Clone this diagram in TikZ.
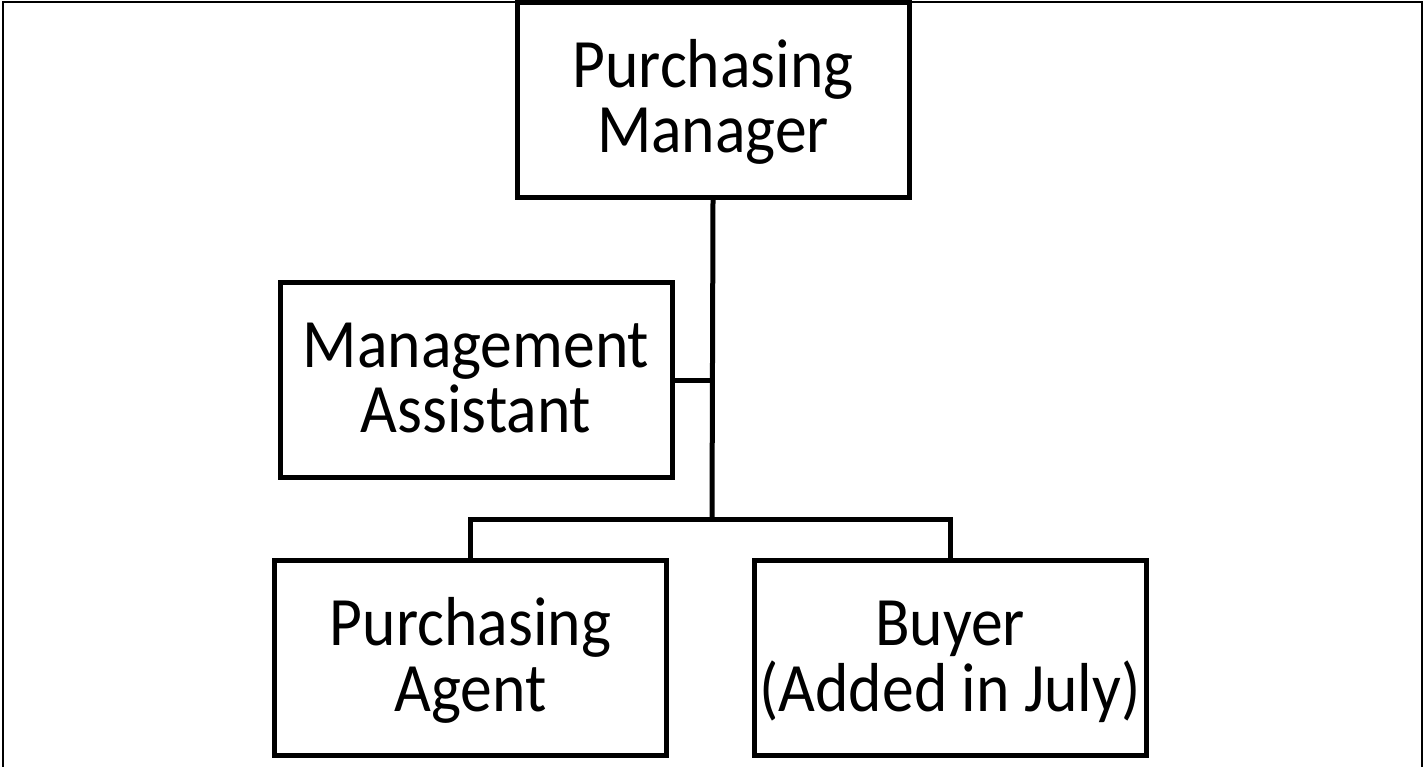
\documentclass[tikz,border=0pt]{standalone}
\usepackage{fontspec}
\usepackage{graphicx}
\setmainfont{Carlito}
\newcommand{\rtext}[2]{\scalebox{1}[1.09]{\fontsize{31.8pt}{30.27pt}\selectfont\lineskiplimit=-100pt\vtop{\halign{\hfil##\hfil\cr #1\cr #2\cr}}}}
\begin{document}
\begin{tikzpicture}[x=0.5pt,y=-0.5pt,
  rolebox/.style={draw=black, line width=2.5pt, rectangle, inner sep=0pt,
    minimum width=196pt, minimum height=97.5pt,
    text height=20pt, text depth=33pt},
  link/.style={draw=black, line width=2.5pt}]
\useasboundingbox (0,0) rectangle (1423,766);
\draw[line width=1.15pt] (2.7,770) -- (2.7,1.8) -- (1421.8,1.8) -- (1421.8,770);
\node[rolebox] (pm) at (713,100) {\rtext{Purchasing}{Manager}};
\node[rolebox] (ma) at (476,380) {\rtext{Management}{Assistant}};
\node[rolebox] (pa) at (470.5,658) {\rtext{Purchasing}{Agent}};
\node[rolebox] (by) at (950,658) {\rtext{Buyer}{(Added in July)}};
\coordinate (bar) at (712,519);
\draw[link] (pm.south) -- (bar);
\draw[link] (ma.east) -- (ma.east -| pm.south);
\draw[link] (pa.north) |- (bar) -| (by.north);
\end{tikzpicture}
\end{document}
